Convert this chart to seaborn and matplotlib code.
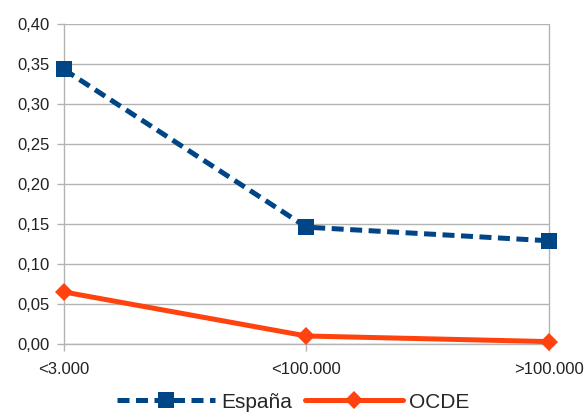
import matplotlib
matplotlib.use("Agg")
import matplotlib.pyplot as plt
from matplotlib.lines import Line2D
from matplotlib.ticker import FuncFormatter
import seaborn as sns
import pandas as pd

categories = ["<3.000", "<100.000", ">100.000"]
espana = [0.343, 0.146, 0.129]
ocde = [0.065, 0.010, 0.003]

sns.set_theme(style="white")
plt.rcParams["font.family"] = ["Liberation Sans", "DejaVu Sans"]

blue = "#004586"
orange = "#ff420e"
grid_c = "#b3b3b3"

df = pd.DataFrame({"pos": [0, 1, 2], "España": espana, "OCDE": ocde})

fig = plt.figure(figsize=(5.87, 4.19), dpi=100)
ax = fig.add_axes([0.109, 0.179, 0.826, 0.764])

sns.lineplot(data=df, x="pos", y="España", ax=ax, color=blue, lw=3.6,
             marker="s", markersize=12, markeredgewidth=0, zorder=4, clip_on=False)
ax.lines[-1].set_dashes((2.4, 1.3))
sns.lineplot(data=df, x="pos", y="OCDE", ax=ax, color=orange, lw=3.6,
             marker="D", markersize=9, markeredgewidth=0, zorder=3, clip_on=False)

ax.set_xlim(0, 2)
ax.set_ylim(0, 0.40)
ax.set_yticks([i * 0.05 for i in range(9)])
ax.yaxis.set_major_formatter(FuncFormatter(lambda v, p: f"{v:.2f}".replace(".", ",")))
ax.set_xticks([0, 1, 2])
ax.set_xticklabels(categories)
ax.set_xlabel("")
ax.set_ylabel("")

ax.grid(axis="y", color=grid_c, lw=1)
ax.set_axisbelow(True)
for s in ["left", "right", "bottom"]:
    ax.spines[s].set_color(grid_c)
    ax.spines[s].set_linewidth(1)
ax.spines["top"].set_visible(False)
ax.tick_params(axis="both", which="both", length=5, width=1, color=grid_c,
               labelsize=12, labelcolor="#222222")
ax.tick_params(axis="y", left=True, pad=5)
ax.tick_params(axis="x", bottom=True, pad=8)

handles = [
    Line2D([], [], color=blue, lw=3.6, dashes=(2.4, 1.3), marker="s",
           markersize=12, markeredgewidth=0),
    Line2D([], [], color=orange, lw=3.6, marker="D", markersize=9,
           markeredgewidth=0),
]
fig.legend(handles, ["España", "OCDE"], loc="center", bbox_to_anchor=(0.5, 0.04),
           ncol=2, frameon=False, fontsize=15, handlelength=4.7,
           columnspacing=0.6, handletextpad=0.3)

fig.savefig("out.png", dpi=100)
